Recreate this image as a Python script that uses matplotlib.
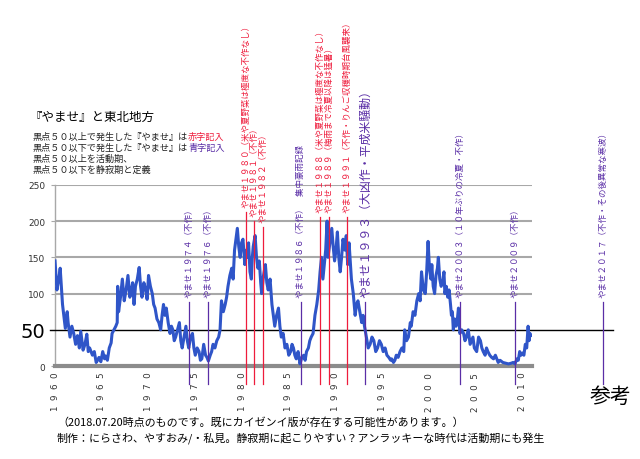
import matplotlib
matplotlib.use("Agg")
import matplotlib.pyplot as plt

plt.rcParams['font.family'] = ['Noto Sans CJK JP', 'DejaVu Sans']

# 黒点数
ss_year = [1960.0, 1960.2, 1960.4, 1960.55, 1960.8, 1961.1, 1961.3, 1961.4, 1961.6, 1961.8,
           1962.0, 1962.2, 1962.4, 1962.6, 1962.75, 1963.0, 1963.2, 1963.4, 1963.55, 1963.7,
           1964.0, 1964.2, 1964.4, 1964.55, 1964.7, 1964.9, 1965.1, 1965.3, 1965.4, 1965.6,
           1965.8, 1966.0, 1966.1, 1966.3, 1966.5, 1966.65, 1966.7, 1966.8, 1967.0, 1967.2,
           1967.4, 1967.6, 1967.8, 1968.0, 1968.1, 1968.3, 1968.45, 1968.6, 1968.8, 1969.0,
           1969.15, 1969.3, 1969.5, 1969.7, 1969.85, 1970.0, 1970.2, 1970.4, 1970.55, 1970.7,
           1970.9, 1971.1, 1971.3, 1971.45, 1971.6, 1971.75, 1971.9, 1972.1, 1972.3, 1972.45,
           1972.6, 1972.75, 1972.9, 1973.1, 1973.3, 1973.45, 1973.6, 1973.8, 1974.0, 1974.15,
           1974.3, 1974.5, 1974.7, 1974.85, 1975.0, 1975.2, 1975.4, 1975.55, 1975.7, 1975.9,
           1976.1, 1976.25, 1976.4, 1976.6, 1976.75, 1976.9, 1977.1, 1977.3, 1977.5, 1977.65,
           1977.8, 1978.0, 1978.2, 1978.35, 1978.5, 1978.7, 1978.9, 1979.05, 1979.2, 1979.35,
           1979.5, 1979.65, 1979.8, 1979.95, 1980.1, 1980.3, 1980.45, 1980.6, 1980.7, 1980.85,
           1981.0, 1981.1, 1981.2, 1981.4, 1981.55, 1981.7, 1981.85, 1982.0, 1982.1, 1982.3,
           1982.5, 1982.65, 1982.8, 1983.0, 1983.2, 1983.35, 1983.5, 1983.7, 1983.9, 1984.05,
           1984.2, 1984.4, 1984.6, 1984.8, 1985.0, 1985.2, 1985.35, 1985.5, 1985.65, 1985.8,
           1986.0, 1986.2, 1986.4, 1986.6, 1986.75, 1986.9, 1987.1, 1987.25, 1987.4, 1987.6,
           1987.8, 1988.0, 1988.2, 1988.35, 1988.5, 1988.65, 1988.8, 1988.95, 1989.1, 1989.2,
           1989.4, 1989.6, 1989.75, 1989.9, 1990.05, 1990.2, 1990.35, 1990.5, 1990.65, 1990.8,
           1991.0, 1991.15, 1991.3, 1991.45, 1991.55, 1991.7, 1991.9, 1992.1, 1992.25, 1992.4,
           1992.6, 1992.8, 1992.95, 1993.1, 1993.3, 1993.5, 1993.7, 1993.9, 1994.1, 1994.3,
           1994.5, 1994.7, 1994.9, 1995.1, 1995.3, 1995.5, 1995.7, 1995.9, 1996.0, 1996.2,
           1996.35, 1996.5, 1996.7, 1996.9, 1997.1, 1997.3, 1997.4, 1997.6, 1997.8, 1998.0,
           1998.1, 1998.3, 1998.5, 1998.7, 1998.9, 1999.05, 1999.2, 1999.4, 1999.6, 1999.75,
           1999.9, 2000.05, 2000.2, 2000.3, 2000.45, 2000.6, 2000.75, 2000.9, 2001.0, 2001.15,
           2001.3, 2001.45, 2001.6, 2001.7, 2001.85, 2002.0, 2002.15, 2002.3, 2002.4, 2002.5,
           2002.6, 2002.75, 2002.9, 2003.0, 2003.15, 2003.3, 2003.5, 2003.7, 2003.85, 2004.0,
           2004.2, 2004.4, 2004.55, 2004.7, 2004.85, 2005.1, 2005.3, 2005.5, 2005.65, 2005.8,
           2006.0, 2006.15, 2006.3, 2006.5, 2006.7, 2006.9, 2007.1, 2007.4, 2007.6, 2007.9,
           2008.2, 2008.5, 2008.8, 2009.0, 2009.2, 2009.4, 2009.55, 2009.7, 2009.85, 2010.0,
           2010.15, 2010.3, 2010.45, 2010.6, 2010.7, 2010.8, 2010.9]
ss_value = [145, 105, 120, 135, 85, 52, 75, 60, 40, 55,
            45, 30, 42, 25, 48, 22, 30, 44, 20, 25,
            15, 20, 5, 8, 12, 6, 20, 10, 14, 8,
            25, 32, 45, 50, 55, 60, 110, 75, 95, 120,
            90, 105, 125, 95, 100, 115, 85, 110, 120, 136,
            110, 95, 115, 105, 92, 125, 110, 100, 85, 80,
            65, 60, 50, 70, 85, 70, 80, 60, 45, 55,
            50, 35, 40, 50, 60, 35, 25, 40, 55, 35,
            25, 40, 45, 25, 15, 25, 20, 8, 10, 30,
            15, 12, 7, 15, 20, 30, 25, 35, 40, 50,
            90, 75, 85, 95, 110, 125, 135, 120, 160, 175,
            190, 165, 150, 170, 175, 140, 160, 150, 170, 130,
            120, 150, 165, 180, 150, 135, 145, 115, 100, 125,
            140, 115, 105, 120, 85, 70, 55, 70, 80, 55,
            40, 45, 25, 30, 15, 20, 30, 25, 15, 10,
            20, 3, 12, 15, 8, 20, 25, 35, 40, 45,
            70, 85, 105, 130, 150, 120, 140, 160, 200, 150,
            170, 190, 165, 145, 160, 185, 150, 130, 150, 175,
            160, 180, 140, 170, 150, 120, 100, 70, 85, 90,
            75, 60, 70, 55, 40, 25, 30, 40, 35, 20,
            25, 35, 30, 20, 25, 15, 12, 8, 10, 5,
            8, 15, 12, 20, 25, 20, 50, 35, 40, 60,
            55, 75, 70, 90, 100, 90, 130, 105, 100, 130,
            172, 135, 120, 140, 110, 100, 125, 135, 150, 120,
            110, 115, 130, 100, 110, 95, 105, 85, 70, 75,
            50, 65, 55, 60, 80, 45, 50, 45, 35, 40,
            50, 30, 35, 40, 25, 20, 40, 35, 25, 20,
            15, 25, 20, 15, 12, 10, 15, 5, 8, 5,
            4, 3, 4, 5, 3, 10, 8, 20, 15, 18,
            15, 30, 25, 55, 35, 45, 42]

# やませの年と注記
ev_x = [1974.3, 1976.4, 1980.4, 1981.3, 1982.2, 1986.3, 1988.3, 1989.3,
        1991.2, 1993.2, 2003.3, 2009.2, 2018.6]
ev_label = ['やませ１９７４（不作）',
            'やませ１９７６（不作）',
            'やませ１９８０（米や夏野菜は極度な不作なし）',
            'やませ１９８１（不作）',
            'やませ１９８２（不作）',
            'やませ１９８６（不作）　集中豪雨記録',
            'やませ１９８８（米や夏野菜は極度な不作なし）',
            'やませ１９８９（梅雨まで冷夏以降は猛暑）',
            'やませ１９９１（不作・りんご収穫時期台風襲来）',
            'やませ１９９３（大凶作・平成米騒動）',
            'やませ２００３（１０年ぶりの冷夏・不作）',
            'やませ２００９（不作）',
            'やませ２０１７（不作・その後異常な寒波）']
ev_red = [False, False, True, True, True, False, True, True, True, False, False, False, False]
ev_top = [88, 88, 213, 200, 192, 88, 206, 206, 206, 88, 88, 88, 88]

RED = '#ee1c3c'
PURPLE = '#5a2ea6'
BLUE = '#2f55c8'

fig = plt.figure(figsize=(6.4, 4.6), dpi=100)
ax = fig.add_axes([0.086, 0.202, 0.745, 0.394])

ax.set_xlim(1960, 2011.0)
ax.set_ylim(0, 250)

for y in [100, 150, 200, 250]:
    ax.axhline(y, color='#a8a8a8', lw=1.5, zorder=1)
ax.plot([1959.5, 2019.7], [50, 50], color='black', lw=1.0, clip_on=False, zorder=3)

ax.plot(ss_year, ss_value, color=BLUE, lw=2.2, zorder=3)

for x, lab, red, top in zip(ev_x, ev_label, ev_red, ev_top):
    c = RED if red else PURPLE
    ax.plot([x, x], [-25, top], color=c, lw=0.9, clip_on=False, zorder=4)
    fs = 8.6 if '１９９３' in lab else 6.1
    ax.text(x, top + 7, lab, rotation=90, ha='center', va='bottom', color=c,
            fontsize=fs, clip_on=False)

for s in ['top', 'right']:
    ax.spines[s].set_visible(False)
ax.spines['left'].set_color('#a8a8a8')
ax.spines['left'].set_linewidth(1.0)
ax.spines['bottom'].set_color('#8c8c8c')
ax.spines['bottom'].set_linewidth(3.0)

xt = list(range(1960, 2011, 5))
ax.set_xticks(xt)
ax.set_xticklabels(['  '.join(str(v)) for v in xt], rotation=90, fontsize=6.3,
                   color='#333333', family='DejaVu Sans')
ax.tick_params(axis='x', length=0, pad=4)

ax.set_yticks([0, 50, 100, 150, 200, 250])
ax.set_yticklabels(['0', '50', '100', '150', '200', '250'], family='DejaVu Sans')
ax.tick_params(axis='y', length=3, color='#a8a8a8', pad=4, labelsize=6.5, labelcolor='#333333')
ax.get_yticklabels()[1].set_fontsize(14)
ax.get_yticklabels()[1].set_color('black')

# 見出しと凡例
fig.text(30 / 640, 1 - 117 / 460, '『やませ』と東北地方', fontsize=9, va='center')
rows = [('黒点５０以上で発生した『やませ』は', '赤字記入', RED),
        ('黒点５０以下で発生した『やませ』は', '青字記入', PURPLE),
        ('黒点５０以上を活動期、', '', None),
        ('黒点５０以下を静寂期と定義', '', None)]
for i, (t1, t2, c2) in enumerate(rows):
    y = 1 - (137 + 11 * i) / 460
    a = fig.text(33 / 640, y, t1, fontsize=6.6, va='center', color='#222222')
    if t2:
        ax.annotate(t2, xy=(1, 0), xycoords=a, va='bottom', ha='left', fontsize=6.6,
                    color=c2, annotation_clip=False)

fig.text(590 / 640, 1 - 397 / 460, '参考', fontsize=15, va='center')
fig.text(57 / 640, 1 - 422 / 460,
         '（2018.07.20時点のものです。既にカイゼンイ版が存在する可能性があります。）',
         fontsize=7.9, va='center')
fig.text(57 / 640, 1 - 438 / 460,
         '制作：にらさわ、やすおみ/・私見。静寂期に起こりやすい？アンラッキーな時代は活動期にも発生',
         fontsize=7.9, va='center')

fig.savefig('out.png', dpi=100)
